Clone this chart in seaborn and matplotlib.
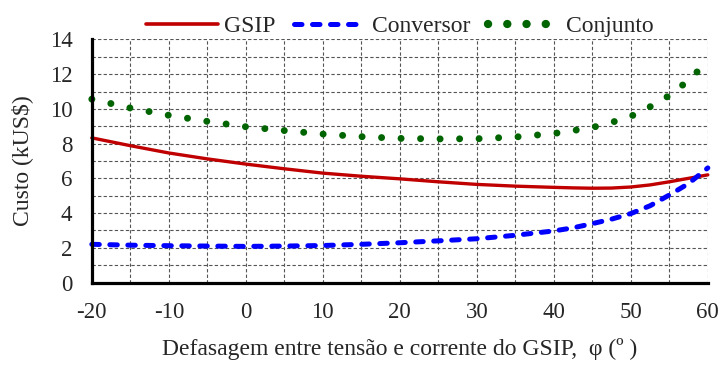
import matplotlib
matplotlib.use("Agg")
import matplotlib.pyplot as plt
import seaborn as sns
import pandas as pd
from matplotlib.ticker import MultipleLocator
from matplotlib.lines import Line2D

phi = [-20, -15, -10, -5, 0, 5, 10, 15, 20, 25, 30, 35, 40, 42.5, 45, 47.5, 50, 52.5, 55, 57.5, 60]
gsip = [8.33, 7.88, 7.46, 7.12, 6.82, 6.55, 6.30, 6.12, 5.97, 5.80, 5.65, 5.55, 5.48, 5.45, 5.43, 5.44, 5.50, 5.62, 5.80, 6.00, 6.20]
conversor = [2.20, 2.15, 2.12, 2.10, 2.08, 2.10, 2.13, 2.20, 2.29, 2.40, 2.52, 2.72, 2.97, 3.15, 3.39, 3.65, 3.97, 4.42, 5.04, 5.70, 6.60]
conjunto = [10.56, 10.05, 9.63, 9.28, 8.97, 8.75, 8.55, 8.40, 8.30, 8.27, 8.28, 8.38, 8.58, 8.75, 8.93, 9.22, 9.57, 10.12, 10.77, 11.64, 12.75]

labels = ["GSIP", "Conversor", "Conjunto"]
colors = ["#C00000", "#0000FF", "#006400"]

sns.set_style("white")
plt.rcParams["font.family"] = ["Liberation Serif", "DejaVu Serif"]
plt.rcParams["axes.unicode_minus"] = False

fig = plt.figure(figsize=(7.23, 3.65), dpi=100)
ax = fig.add_axes([0.127, 0.226, 0.852, 0.666])

df = pd.DataFrame({"phi": phi, "GSIP": gsip, "Conversor": conversor, "Conjunto": conjunto})

sns.lineplot(data=df, x="phi", y="GSIP", ax=ax, color=colors[0], linewidth=2.4)
l1 = ax.lines[-1]
sns.lineplot(data=df, x="phi", y="Conversor", ax=ax, color=colors[1], linewidth=3.6)
l2 = ax.lines[-1]
l2.set_dashes((1.5, 2.1))
l2.set_dash_capstyle("round")
sns.lineplot(data=df, x="phi", y="Conjunto", ax=ax, color=colors[2], linewidth=5.0)
l3 = ax.lines[-1]
l3.set_dashes((0.01, 2.8))
l3.set_dash_capstyle("round")
for l in (l1, l2, l3):
    l.set_clip_on(False)

ax.set_xlim(-20, 60)
ax.set_ylim(0, 14)
ax.xaxis.set_major_locator(MultipleLocator(10))
ax.xaxis.set_minor_locator(MultipleLocator(5))
ax.yaxis.set_major_locator(MultipleLocator(2))
ax.yaxis.set_minor_locator(MultipleLocator(1))
ax.grid(True, which="both", linestyle=(0, (3, 2)), color="#555555", linewidth=0.8)
ax.set_axisbelow(True)

for s in ("top", "right"):
    ax.spines[s].set_visible(False)
for s in ("left", "bottom"):
    ax.spines[s].set_linewidth(2.3)
    ax.spines[s].set_color("black")
ax.tick_params(axis="both", which="minor", length=0)
ax.tick_params(axis="x", which="major", direction="inout", length=10, width=2.3, color="black",
               labelsize=16.5, pad=9)
ax.tick_params(axis="y", which="major", direction="out", length=5, width=2.3, color="black",
               labelsize=16.5, pad=9)

ax.set_xlabel("Defasagem entre tensão e corrente do GSIP,  φ (º )", fontsize=17, labelpad=11)
ax.set_ylabel("Custo (kUS\\$)", fontsize=17, labelpad=12)

handles = [
    Line2D([], [], color=colors[0], linewidth=2.6),
    Line2D([], [], color=colors[1], linewidth=3.6, dashes=(1.5, 2.1), dash_capstyle="round"),
    Line2D([], [], color=colors[2], linewidth=6.0, dashes=(0.01, 2.3), dash_capstyle="round"),
]
ax.legend(handles, labels, ncol=3, loc="lower center", bbox_to_anchor=(0.5, 1.0),
          frameon=False, handlelength=3.05, handletextpad=0.25, columnspacing=0.75,
          fontsize=17, borderaxespad=0.0, borderpad=0.1)

fig.savefig("out.png", dpi=100)
